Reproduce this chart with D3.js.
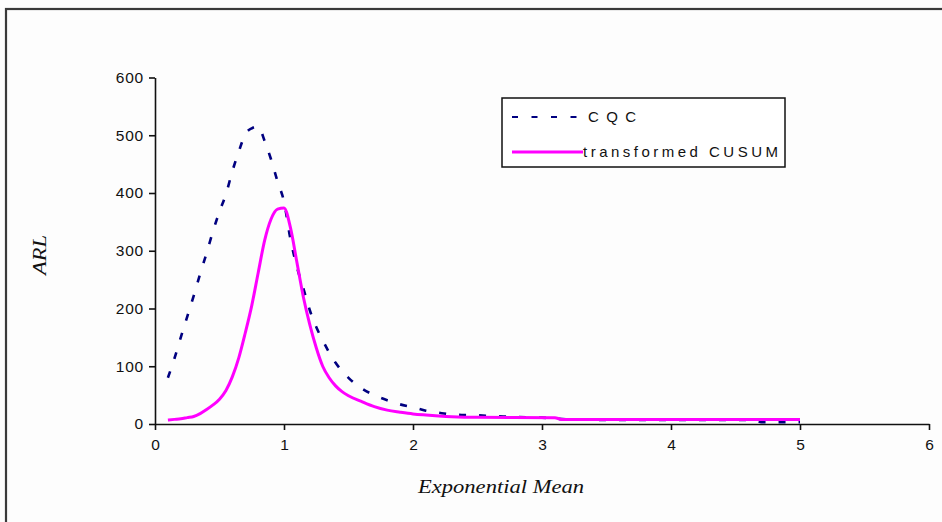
<!DOCTYPE html>
<html>
<head>
<meta charset="utf-8">
<script src="https://cdn.jsdelivr.net/npm/d3@7/dist/d3.min.js"></script>
<style>
  html, body { margin: 0; padding: 0; background: #fdfdfd; }
  svg { display: block; }
  .tick text { font-family: Arial, "Liberation Sans", sans-serif; font-size: 15.5px; fill: #111; letter-spacing: 0.8px; }
  .title { font-family: "Liberation Serif", "Times New Roman", serif; font-style: italic; font-size: 18px; fill: #111; }
  .leg { font-family: Arial, "Liberation Sans", sans-serif; font-size: 15px; fill: #111; }
</style>
</head>
<body>
<svg id="chart" width="942" height="522"></svg>
<script>
// ARL against the exponential mean, two control schemes
const meanCQC = [0.1,0.15,0.2,0.25,0.3,0.35,0.4,0.45,0.5,0.55,0.6,0.65,0.7,0.75,0.8,0.85,0.9,0.95,1.0,1.05,1.1,1.15,1.2,1.25,1.3,1.35,1.4,1.5,1.6,1.7,1.8,1.9,2.0,2.1,2.2,2.3,2.4,2.5,2.6,2.7,2.8,3.0,3.2,3.5,4.0,4.5,4.65,4.7,5.0];
const arlCQC  = [80,113,150,186,222,260,296,334,368,398,438,472,502,512,515,490,458,420,385,320,272,235,197,168,145,124,106,80,62,50,41,34,29,23,19.5,16.5,15.5,15,14,13,12,11,8,7,7,7,7,3,3];

const meanCUSUM = [0.1,0.15,0.2,0.25,0.3,0.35,0.4,0.45,0.5,0.55,0.6,0.65,0.7,0.75,0.8,0.85,0.9,0.95,1.0,1.05,1.1,1.15,1.2,1.25,1.3,1.35,1.4,1.45,1.5,1.6,1.7,1.8,1.9,2.0,2.1,2.2,2.3,2.5,3.1,3.15,5.0];
const arlCUSUM  = [7,8,9,11,13,18,25,33,43,58,82,115,158,205,262,318,355,372,374,340,280,220,172,132,100,80,66,56,49,39,30,24,20.5,17.5,15.6,14,12.7,11.5,11,8,8];

const xTicks = [0,1,2,3,4,5,6];
const yTicks = [0,100,200,300,400,500,600];
const seriesNames = ["CQC", "transformed CUSUM"];
const xTitle = "Exponential Mean";
const yTitle = "ARL";

const svg = d3.select("#chart");

// outer chart frame (runs off the right and bottom edges)
svg.append("rect")
  .attr("x", 6).attr("y", 9).attr("width", 960).attr("height", 540)
  .attr("fill", "#fdfdfd").attr("stroke", "#3a3a3a").attr("stroke-width", 2.2);

const x = d3.scaleLinear().domain([0, 6]).range([155, 929]);
const y = d3.scaleLinear().domain([0, 600]).range([424, 77.5]);

// axes
const xAxis = svg.append("g").attr("transform", `translate(0,${y(0)})`)
  .call(d3.axisBottom(x).tickValues(xTicks).tickFormat(d3.format("d")).tickSizeInner(6).tickSizeOuter(0).tickPadding(9));
const yAxis = svg.append("g").attr("transform", `translate(${x(0)},0)`)
  .call(d3.axisLeft(y).tickValues(yTicks).tickFormat(d3.format("d")).tickSizeInner(6).tickSizeOuter(0).tickPadding(5));
[xAxis, yAxis].forEach(g => {
  g.select(".domain").attr("stroke", "#111").attr("stroke-width", 1.6);
  g.selectAll(".tick line").attr("stroke", "#111").attr("stroke-width", 1.6);
});
xAxis.selectAll(".tick text").attr("dx", "0.4px");

// axis titles
svg.append("text").attr("class", "title")
  .attr("x", 501).attr("y", 493).attr("text-anchor", "middle")
  .attr("textLength", 166).attr("lengthAdjust", "spacingAndGlyphs").text(xTitle);
svg.append("text").attr("class", "title")
  .attr("transform", "translate(46,255) rotate(-90)").attr("text-anchor", "middle")
  .attr("textLength", 40).attr("lengthAdjust", "spacingAndGlyphs").text(yTitle);

const line = d3.line().x(d => x(d[0])).y(d => y(d[1])).curve(d3.curveMonotoneX);

// CQC curve, dashed navy
svg.append("path")
  .datum(d3.zip(meanCQC, arlCQC))
  .attr("d", line).attr("fill", "none")
  .attr("stroke", "#000080").attr("stroke-width", 2.6).attr("stroke-dasharray", "7,13");

// transformed CUSUM curve, solid magenta
svg.append("path")
  .datum(d3.zip(meanCUSUM, arlCUSUM))
  .attr("d", line).attr("fill", "none")
  .attr("stroke", "#ff00ff").attr("stroke-width", 3);

// legend
const leg = svg.append("g");
leg.append("rect").attr("x", 502).attr("y", 98).attr("width", 283).attr("height", 69)
  .attr("fill", "#fff").attr("stroke", "#111").attr("stroke-width", 1.5);
leg.append("line").attr("x1", 512).attr("x2", 585).attr("y1", 117).attr("y2", 117)
  .attr("stroke", "#000080").attr("stroke-width", 2).attr("stroke-dasharray", "6,13.5");
leg.append("line").attr("x1", 512).attr("x2", 583).attr("y1", 152).attr("y2", 152)
  .attr("stroke", "#ff00ff").attr("stroke-width", 3);
leg.append("text").attr("class", "leg").attr("x", 588).attr("y", 122)
  .attr("textLength", 48).attr("lengthAdjust", "spacing").text(seriesNames[0]);
leg.append("text").attr("class", "leg").attr("x", 583).attr("y", 157)
  .attr("textLength", 195).attr("lengthAdjust", "spacing").text(seriesNames[1]);
</script>
</body>
</html>
